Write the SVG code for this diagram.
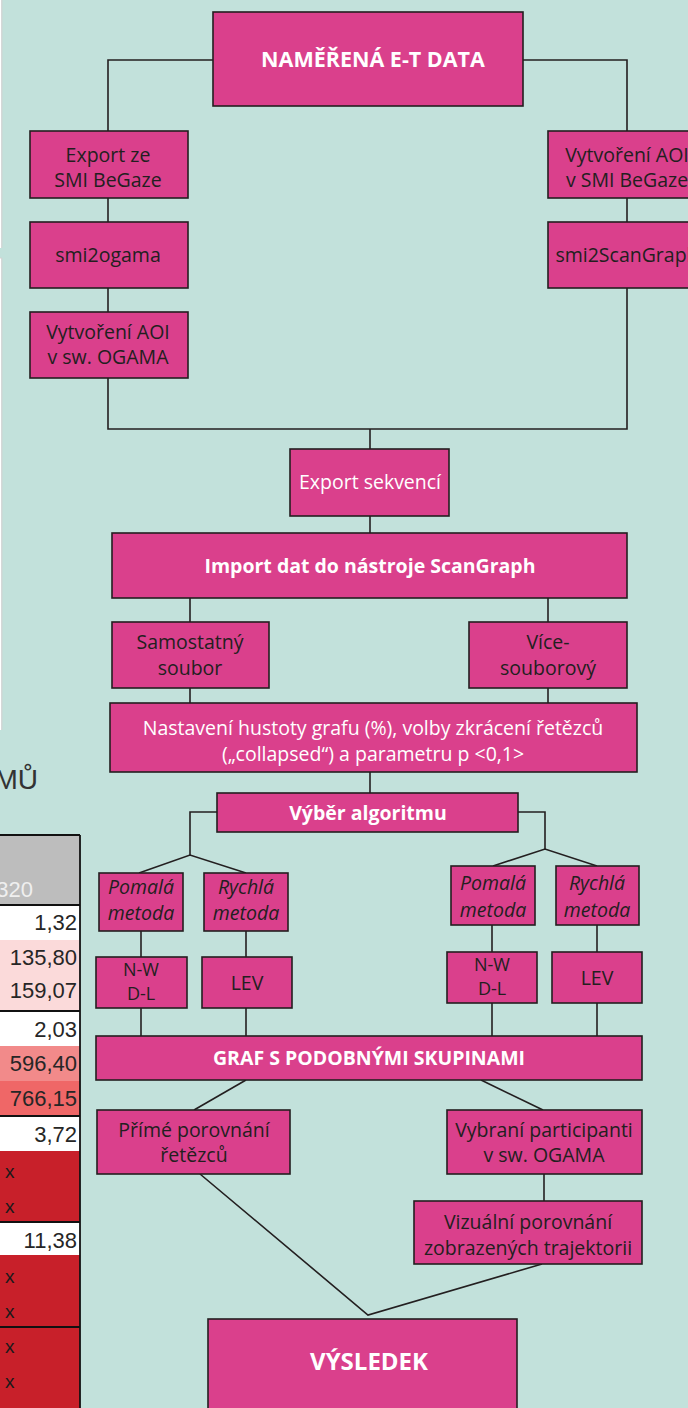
<svg xmlns="http://www.w3.org/2000/svg" width="688" height="1408" viewBox="0 0 688 1408">
<style>
  .box { fill: #da408c; stroke: #231f20; stroke-width: 1.6; }
  .conn { fill: none; stroke: #231f20; stroke-width: 1.6; }
  .t { font-family: "Open Sans", "Noto Sans", sans-serif; font-size: 19.5px; fill: #231f20; text-anchor: middle; }
  .w { fill: #ffffff; }
  .b { font-weight: bold; fill: #ffffff; }
  .i { font-style: italic; font-size: 19.5px; }
  .s { font-size: 18px; }
  .big { font-size: 24px; }
  .title { font-size: 21.5px; }
  .num { font-family: "Liberation Sans", Arial, sans-serif; font-size: 22px; fill: #262626; text-anchor: end; }
  .x { font-family: "Liberation Sans", Arial, sans-serif; font-size: 19px; fill: #1a1a1a; }
</style>
<rect x="0" y="0" width="688" height="1408" fill="#c2e1db"/>

<g id="page-edge">
  <rect x="0" y="0" width="1.5" height="248" fill="#ffffff"/>
  <line x1="1.8" y1="0" x2="1.8" y2="248" stroke="#d2d2d2" stroke-width="1.2"/>
  <rect x="0" y="258" width="1.5" height="472" fill="#ffffff"/>
  <line x1="0" y1="258" x2="2" y2="258" stroke="#d2d2d2" stroke-width="1.2"/>
  <line x1="1.8" y1="258" x2="1.8" y2="730" stroke="#d2d2d2" stroke-width="1.2"/>
  <text x="38" y="789" font-family="Liberation Sans, Arial, sans-serif" font-size="28" fill="#333333" text-anchor="end">MŮ</text>
</g>

<g id="table-fragment">
  <rect x="0" y="835" width="80" height="70" fill="#bdbdbd"/>
  <text x="33" y="897" font-family="Liberation Sans, Arial, sans-serif" font-size="22" fill="#efefef" text-anchor="end">320</text>
  <rect x="0" y="905" width="80" height="35" fill="#ffffff"/>
  <rect x="0" y="940" width="80" height="71" fill="#fbdada"/>
  <rect x="0" y="1011" width="80" height="35" fill="#ffffff"/>
  <rect x="0" y="1046" width="80" height="35" fill="#f28a8a"/>
  <rect x="0" y="1081" width="80" height="35" fill="#ef6767"/>
  <rect x="0" y="1116" width="80" height="35" fill="#ffffff"/>
  <rect x="0" y="1151" width="80" height="71" fill="#c8202a"/>
  <rect x="0" y="1222" width="80" height="33" fill="#ffffff"/>
  <rect x="0" y="1255" width="80" height="72" fill="#c8202a"/>
  <rect x="0" y="1327" width="80" height="81" fill="#c8202a"/>
  <g stroke="#111111" stroke-width="1.8">
    <line x1="0" y1="835" x2="80" y2="835"/>
    <line x1="0" y1="905" x2="80" y2="905"/>
    <line x1="0" y1="1011" x2="80" y2="1011"/>
    <line x1="0" y1="1116" x2="80" y2="1116"/>
    <line x1="0" y1="1222" x2="80" y2="1222"/>
    <line x1="0" y1="1327" x2="80" y2="1327"/>
    <line x1="80" y1="835" x2="80" y2="1408"/>
  </g>
  <text class="num" x="77" y="930">1,32</text>
  <text class="num" x="77" y="965">135,80</text>
  <text class="num" x="77" y="998">159,07</text>
  <text class="num" x="77" y="1037">2,03</text>
  <text class="num" x="77" y="1071">596,40</text>
  <text class="num" x="77" y="1106">766,15</text>
  <text class="num" x="77" y="1142">3,72</text>
  <text class="x" x="5" y="1178">x</text>
  <text class="x" x="5" y="1213">x</text>
  <text class="num" x="77" y="1248">11,38</text>
  <text class="x" x="5" y="1283">x</text>
  <text class="x" x="5" y="1318">x</text>
  <text class="x" x="5" y="1353">x</text>
  <text class="x" x="5" y="1388">x</text>
</g>

<g id="connectors">
  <polyline class="conn" points="213,60 108,60 108,131"/>
  <polyline class="conn" points="523,60 627,60 627,131"/>
  <line class="conn" x1="108" y1="198" x2="108" y2="222"/>
  <line class="conn" x1="108" y1="288" x2="108" y2="312"/>
  <line class="conn" x1="627" y1="198" x2="627" y2="222"/>
  <polyline class="conn" points="108,378 108,429 627,429 627,288"/>
  <line class="conn" x1="370" y1="429" x2="370" y2="449"/>
  <line class="conn" x1="370" y1="516" x2="370" y2="533"/>
  <line class="conn" x1="190" y1="598" x2="190" y2="622"/>
  <line class="conn" x1="548" y1="598" x2="548" y2="622"/>
  <line class="conn" x1="190" y1="688" x2="190" y2="703"/>
  <line class="conn" x1="548" y1="688" x2="548" y2="703"/>
  <line class="conn" x1="370" y1="772" x2="370" y2="793"/>
  <polyline class="conn" points="217,812 190,812 190,855"/>
  <polyline class="conn" points="139,873 190,855 246,873"/>
  <polyline class="conn" points="518,812 545,812 545,849"/>
  <polyline class="conn" points="493,866 545,849 597,866"/>
  <line class="conn" x1="141" y1="931" x2="141" y2="957"/>
  <line class="conn" x1="246" y1="931" x2="246" y2="957"/>
  <line class="conn" x1="492" y1="925" x2="492" y2="952"/>
  <line class="conn" x1="597" y1="925" x2="597" y2="952"/>
  <line class="conn" x1="141" y1="1008" x2="141" y2="1036"/>
  <line class="conn" x1="246" y1="1008" x2="246" y2="1036"/>
  <line class="conn" x1="492" y1="1003" x2="492" y2="1036"/>
  <line class="conn" x1="597" y1="1003" x2="597" y2="1036"/>
  <line class="conn" x1="246" y1="1080" x2="194" y2="1110"/>
  <line class="conn" x1="481" y1="1080" x2="543" y2="1110"/>
  <line class="conn" x1="544" y1="1174" x2="544" y2="1201"/>
  <polyline class="conn" points="200,1174 368,1315 542,1264"/>
</g>

<g id="n-data"><rect class="box" x="213" y="12" width="310" height="94"/><text class="t b title" x="373" y="67">NAMĚŘENÁ E-T DATA</text></g>
<g id="n-export-smi"><rect class="box" x="30" y="131" width="158" height="67"/><text class="t" x="108" y="162">Export ze</text><text class="t" x="108" y="187">SMI BeGaze</text></g>
<g id="n-smi2ogama"><rect class="box" x="30" y="222" width="158" height="66"/><text class="t" x="108" y="262">smi2ogama</text></g>
<g id="n-aoi-ogama"><rect class="box" x="30" y="312" width="158" height="66"/><text class="t" x="108" y="339">Vytvoření AOI</text><text class="t" x="108" y="364">v sw. OGAMA</text></g>
<g id="n-aoi-begaze"><rect class="box" x="548" y="131" width="160" height="67"/><text class="t" x="627" y="162">Vytvoření AOI</text><text class="t" x="627" y="187">v SMI BeGaze</text></g>
<g id="n-smi2scangraph"><rect class="box" x="548" y="222" width="160" height="66"/><text class="t" x="627" y="262">smi2ScanGraph</text></g>
<g id="n-export-seq"><rect class="box" x="290" y="449" width="159" height="67"/><text class="t w" x="370" y="489">Export sekvencí</text></g>
<g id="n-import"><rect class="box" x="112" y="533" width="515" height="65"/><text class="t b" x="370" y="573">Import dat do nástroje ScanGraph</text></g>
<g id="n-single"><rect class="box" x="112" y="622" width="157" height="66"/><text class="t" x="190" y="649">Samostatný</text><text class="t" x="190" y="675">soubor</text></g>
<g id="n-multi"><rect class="box" x="469" y="622" width="158" height="66"/><text class="t" x="548" y="649">Více-</text><text class="t" x="548" y="675">souborový</text></g>
<g id="n-settings"><rect class="box" x="110" y="703" width="527" height="69"/><text class="t w" x="373" y="735">Nastavení hustoty grafu (%), volby zkrácení řetězců</text><text class="t w" x="373" y="761">(„collapsed“) a parametru p &lt;0,1&gt;</text></g>
<g id="n-algo"><rect class="box" x="217" y="793" width="301" height="39"/><text class="t b" x="368" y="820">Výběr algoritmu</text></g>
<g id="n-slow-l"><rect class="box" x="99" y="873" width="84" height="58"/><text class="t i" x="141" y="894">Pomalá</text><text class="t i" x="141" y="920">metoda</text></g>
<g id="n-fast-l"><rect class="box" x="204" y="873" width="84" height="58"/><text class="t i" x="246" y="894">Rychlá</text><text class="t i" x="246" y="920">metoda</text></g>
<g id="n-slow-r"><rect class="box" x="451" y="866" width="84" height="59"/><text class="t i" x="493" y="890">Pomalá</text><text class="t i" x="493" y="917">metoda</text></g>
<g id="n-fast-r"><rect class="box" x="556" y="866" width="83" height="59"/><text class="t i" x="597" y="890">Rychlá</text><text class="t i" x="597" y="917">metoda</text></g>
<g id="n-nwdl-l"><rect class="box" x="96" y="957" width="91" height="51"/><text class="t s" x="141" y="976">N-W</text><text class="t s" x="141" y="1000">D-L</text></g>
<g id="n-lev-l"><rect class="box" x="202" y="957" width="90" height="51"/><text class="t" x="247" y="990">LEV</text></g>
<g id="n-nwdl-r"><rect class="box" x="447" y="952" width="90" height="51"/><text class="t s" x="492" y="971">N-W</text><text class="t s" x="492" y="995">D-L</text></g>
<g id="n-lev-r"><rect class="box" x="552" y="952" width="90" height="51"/><text class="t" x="597" y="985">LEV</text></g>
<g id="n-graph"><rect class="box" x="96" y="1036" width="546" height="44"/><text class="t b" x="369" y="1065">GRAF S PODOBNÝMI SKUPINAMI</text></g>
<g id="n-direct"><rect class="box" x="97" y="1110" width="193" height="64"/><text class="t" x="194" y="1137">Přímé porovnání</text><text class="t" x="194" y="1162">řetězců</text></g>
<g id="n-selected"><rect class="box" x="447" y="1110" width="195" height="64"/><text class="t" x="544" y="1137">Vybraní participanti</text><text class="t" x="544" y="1162">v sw. OGAMA</text></g>
<g id="n-visual"><rect class="box" x="414" y="1201" width="228" height="63"/><text class="t" x="528" y="1229">Vizuální porovnání</text><text class="t" x="528" y="1255">zobrazených trajektorii</text></g>
<g id="n-result"><rect class="box" x="208" y="1319" width="309" height="100"/><text class="t b big" x="369" y="1370">VÝSLEDEK</text></g>
</svg>
